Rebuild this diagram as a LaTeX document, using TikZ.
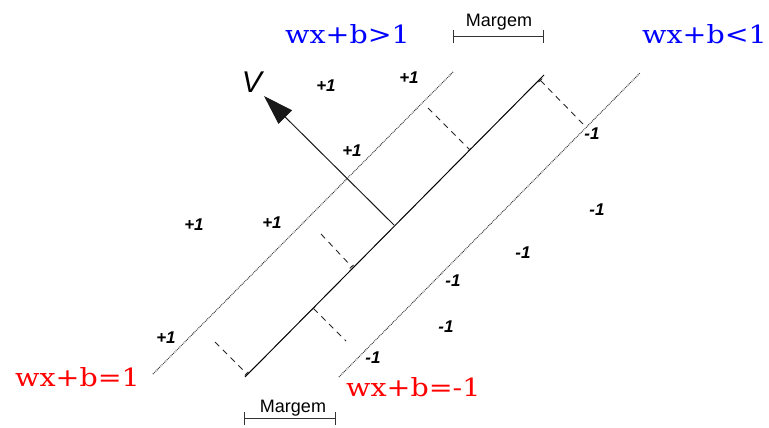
\documentclass[tikz,border=0pt]{standalone}
\usepackage{fontspec}
\setmainfont{Liberation Sans}
\newfontfamily\eqfont[FakeStretch=1.14]{DejaVu Serif}
\usetikzlibrary{arrows.meta}
\begin{document}
\begin{tikzpicture}[x=1pt,y=-1pt,
  hyper/.style={line width=1pt, black},
  marginline/.style={dash pattern=on 0.8pt off 1pt, line width=1.1pt, black!80},
  gap/.style={dash pattern=on 6pt off 5pt, line width=0.9pt, black!85},
  lab/.style={font=\fontsize{17}{17}\selectfont\bfseries\itshape, inner sep=0pt},
  eqtext/.style={font=\eqfont\fontsize{25}{25}\selectfont, inner sep=0pt, anchor=base west},
  eqblue/.style={eqtext, text=blue},
  eqred/.style={eqtext, text=red},
  dimbar/.style={line width=1pt, black!80, {Bar[width=13pt]}-{Bar[width=13pt]}},
  dimtext/.style={font=\fontsize{18}{18}\selectfont, inner sep=0pt, anchor=base}
]
\useasboundingbox (0,0) rectangle (769,428);
% hyperplanes
\coordinate (L1b) at (153,374); \coordinate (L1t) at (453,72);
\coordinate (Mb) at (245,377);  \coordinate (Mt) at (544,75);
\coordinate (Rb) at (339,377);  \coordinate (Rt) at (640,73);
\draw[marginline] (L1b) -- (L1t);
\draw[hyper] (Mb) -- (Mt);
\draw[marginline] (Rb) -- (Rt);
% distance dashes
\coordinate (D1a) at (428,108); \coordinate (D1b) at (470,150);
\coordinate (D2a) at (540,80);  \coordinate (D2b) at (583,124);
\coordinate (D3a) at (321,234); \coordinate (D3b) at (352,267);
\coordinate (D4a) at (313,308); \coordinate (D4b) at (346,341);
\coordinate (D5a) at (215,342); \coordinate (D5b) at (247,374);
\draw[gap, -{Bar[width=5pt]}] (D1a) -- (D1b);
\draw[gap, {Bar[width=5pt]}-] (D2a) -- (D2b);
\draw[gap, -{Bar[width=5pt]}] (D3a) -- (D3b);
\draw[gap, {Bar[width=5pt]}-] (D4a) -- (D4b);
\draw[gap, -{Bar[width=5pt]}] (D5a) -- (D5b);
% normal vector
\coordinate (Vbase) at (394,225); \coordinate (Vtip) at (264,96);
\draw[line width=1pt, black!90, -{Triangle[length=30pt,width=19pt]}] (Vbase) -- (Vtip);
\node[font=\fontsize{30}{30}\selectfont\itshape, inner sep=0pt] (vlab) at (252,82.5) {V};
% class labels
\node[lab] (p1) at (326,86) {+1};
\node[lab] (p2) at (409,78) {+1};
\node[lab] (p3) at (352,151) {+1};
\node[lab] (p4) at (194,225) {+1};
\node[lab] (p5) at (272,223) {+1};
\node[lab] (p6) at (166,338) {+1};
\node[lab] (n1) at (592,134) {-1};
\node[lab] (n2) at (597,210) {-1};
\node[lab] (n3) at (523,253) {-1};
\node[lab] (n4) at (453,281) {-1};
\node[lab] (n5) at (446,327) {-1};
\node[lab] (n6) at (373,358) {-1};
% equations
\node[eqblue] (e1) at (285,44) {wx+b>1};
\node[eqblue] (e2) at (642,43.3) {wx+b<1};
\node[eqred] (e3) at (15,386.7) {wx+b=1};
\node[eqred] (e4) at (346,396.7) {wx+b=-1};
% margins
\coordinate (m1a) at (453,37); \coordinate (m1b) at (544,37);
\draw[dimbar] (m1a) -- (m1b);
\node[dimtext] (mt1) at (499,26.7) {Margem};
\coordinate (m2a) at (244,418.5); \coordinate (m2b) at (336,418.5);
\draw[dimbar] (m2a) -- (m2b);
\node[dimtext] (mt2) at (293,412.5) {Margem};
\end{tikzpicture}
\end{document}
